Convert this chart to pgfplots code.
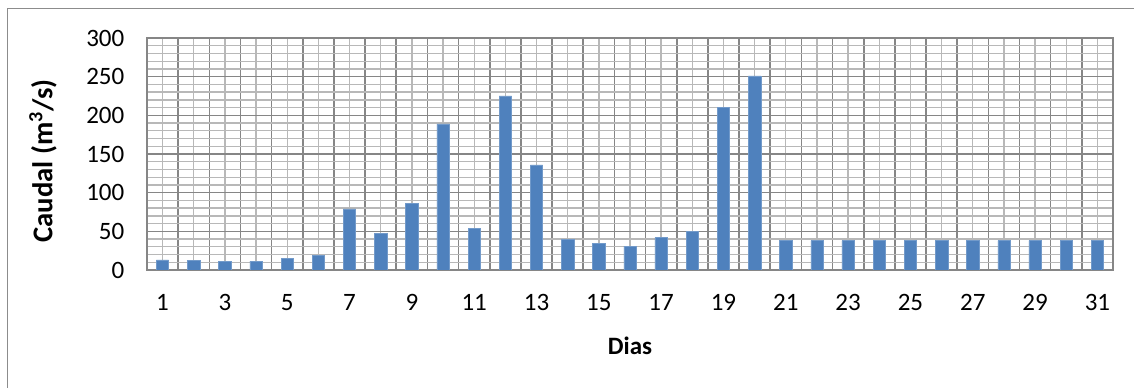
\documentclass[border=0pt]{standalone}
\usepackage{pgfplots}
\pgfplotsset{compat=1.18}
\usepackage{fontspec}
\setmainfont{Carlito}
\definecolor{barblue}{HTML}{4F81BD}
\definecolor{majgrid}{HTML}{868686}
\definecolor{mingrid}{HTML}{B8B8B8}
\definecolor{frame}{HTML}{8C8C8C}
\begin{document}
\begin{tikzpicture}[x=0.75pt,y=0.75pt]
\useasboundingbox (0,0) rectangle (1134,388);
\fill[white] (0,0) rectangle (1134,388);
\draw[frame, line width=1.3pt] (7.5,0) -- (7.5,379.5) -- (1134,379.5);
\begin{axis}[
  at={(147*0.75pt,118*0.75pt)}, anchor=south west,
  scale only axis, width=724.5pt, height=174pt,
  font=\fontsize{18.75pt}{22pt}\selectfont,
  /pgf/number format/assume math mode=true,
  xmin=0.5, xmax=31.5, ymin=0, ymax=300,
  ytick={0,50,100,150,200,250,300},
  minor ytick={10,20,30,40,60,70,80,90,110,120,130,140,160,170,180,190,210,220,230,240,260,270,280,290},
  xtick={0.5,1.5,2.5,3.5,4.5,5.5,6.5,7.5,8.5,9.5,10.5,11.5,12.5,13.5,14.5,15.5,16.5,17.5,18.5,19.5,20.5,21.5,22.5,23.5,24.5,25.5,26.5,27.5,28.5,29.5,30.5,31.5},
  xticklabels={},
  minor xtick={1,2,3,4,5,6,7,8,9,10,11,12,13,14,15,16,17,18,19,20,21,22,23,24,25,26,27,28,29,30,31},
  extra x ticks={1,3,5,7,9,11,13,15,17,19,21,23,25,27,29,31},
  extra x tick labels={1,3,5,7,9,11,13,15,17,19,21,23,25,27,29,31},
  extra x tick style={grid=none, major tick length=0pt},
  grid=both,
  major grid style={majgrid, line width=1.2pt},
  minor grid style={mingrid, line width=1pt},
  major tick length=0pt, minor tick length=0pt,
  axis line style={majgrid, line width=1.2pt},
  xticklabel style={yshift=-15pt},
  yticklabel style={xshift=-13.5pt},
  xlabel={\textbf{Dias}},
  ylabel={\fontsize{21.5pt}{24pt}\selectfont\textbf{Caudal (m\textsuperscript{3}/s)}},
  xlabel style={at={(axis description cs:0.5,-0.328)}, anchor=center},
  ylabel style={at={(axis description cs:-0.1077,0.47)}, anchor=center},
]
\addplot[ybar, bar width=9.25pt, fill=barblue, draw=barblue!80!white, line width=0.4pt] coordinates {
(1,13) (2,12) (3,11.5) (4,11.5) (5,15) (6,18.5) (7,79) (8,47) (9,86) (10,189)
(11,54) (12,225) (13,136) (14,40) (15,34) (16,31) (17,42) (18,50) (19,210) (20,251)
(21,38) (22,38) (23,38) (24,38) (25,38) (26,38) (27,38) (28,38) (29,38) (30,38) (31,38)
};
\end{axis}
\end{tikzpicture}
\end{document}
